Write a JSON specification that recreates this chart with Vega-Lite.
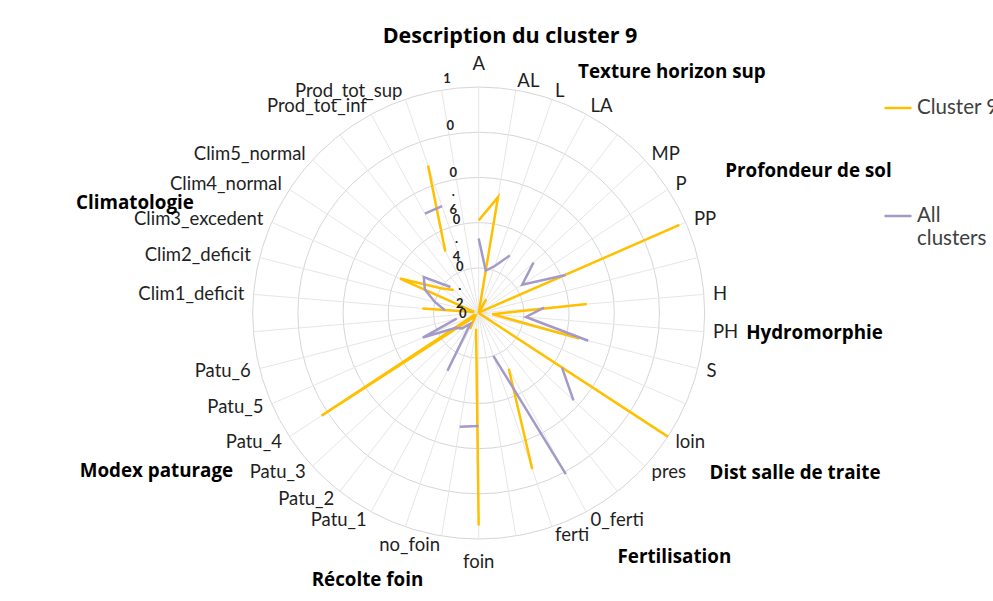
{
"$schema": "https://vega.github.io/schema/vega-lite/v6.json",
"width": 993, "height": 601, "padding": 0, "autosize": {"type": "none"},
"background": "#ffffff",
"config": {"view": {"stroke": null}, "text": {"font": "Lato"},
  "legend": {"orient": "none", "legendX": 883, "legendY": 93, "symbolType": "stroke", "symbolSize": 729, "symbolStrokeWidth": 2.5, "labelFont": "Lato", "labelFontSize": 20.5, "labelColor": "#404040", "labelOffset": 4, "rowPadding": 82, "labelBaseline": "middle", "title": null}},
"datasets": {
  "cats": [
    {"k":0,"cat":"A","c9":0.41,"all":0.33},
    {"k":1,"cat":"AL","c9":0.52,"all":0.19},
    {"k":2,"cat":"L","c9":0.0,"all":0.22},
    {"k":3,"cat":"LA","c9":0.07,"all":0.29},
    {"k":4,"cat":"","c9":null,"all":null},
    {"k":5,"cat":"MP","c9":0.02,"all":0.33},
    {"k":6,"cat":"P","c9":0.01,"all":0.23},
    {"k":7,"cat":"PP","c9":0.97,"all":0.42},
    {"k":8,"cat":"","c9":null,"all":null},
    {"k":9,"cat":"H","c9":0.48,"all":0.29},
    {"k":10,"cat":"PH","c9":0.06,"all":0.21},
    {"k":11,"cat":"S","c9":0.46,"all":0.50},
    {"k":12,"cat":"","c9":null,"all":null},
    {"k":13,"cat":"loin","c9":1.0,"all":0.44},
    {"k":14,"cat":"pres","c9":0.0,"all":0.57},
    {"k":15,"cat":"","c9":null,"all":null},
    {"k":16,"cat":"0_ferti","c9":0.28,"all":0.81},
    {"k":17,"cat":"ferti","c9":0.73,"all":0.20},
    {"k":18,"cat":"","c9":null,"all":null},
    {"k":19,"cat":"foin","c9":0.94,"all":0.50},
    {"k":20,"cat":"no_foin","c9":0.07,"all":0.51},
    {"k":21,"cat":"","c9":null,"all":null},
    {"k":22,"cat":"Patu_1","c9":0.08,"all":0.29},
    {"k":23,"cat":"Patu_2","c9":0.03,"all":0.06},
    {"k":24,"cat":"Patu_3","c9":0.02,"all":0.10},
    {"k":25,"cat":"Patu_4","c9":0.83,"all":0.12},
    {"k":26,"cat":"Patu_5","c9":0.02,"all":0.27},
    {"k":27,"cat":"Patu_6","c9":0.02,"all":0.10},
    {"k":28,"cat":"","c9":null,"all":null},
    {"k":29,"cat":"Clim1_deficit","c9":0.25,"all":0.15},
    {"k":30,"cat":"Clim2_deficit","c9":0.02,"all":0.20},
    {"k":31,"cat":"Clim3_excedent","c9":0.38,"all":0.26},
    {"k":32,"cat":"Clim4_normal","c9":0.20,"all":0.29},
    {"k":33,"cat":"Clim5_normal","c9":0.15,"all":0.17},
    {"k":34,"cat":"","c9":null,"all":null},
    {"k":35,"cat":"Prod_tot_inf","c9":0.31,"all":0.50},
    {"k":36,"cat":"Prod_tot_sup","c9":0.69,"all":0.50},
    {"k":37,"cat":"","c9":null,"all":null}
  ],
  "rings": [
    {"r":0,"t":"0"},
    {"r":0.2,"t":"0\n.\n2"},
    {"r":0.4,"t":"0\n.\n4"},
    {"r":0.6,"t":"0\n.\n6"},
    {"r":0.8,"t":"0"},
    {"r":1,"t":"1"}
  ],
  "one": [{"n":1}]
},
"layer": [
  {"data":{"name":"rings"},"transform":[{"filter":"datum.r > 0"}],
   "mark":{"type":"point","shape":"circle","filled":false,"stroke":"#D6D6D6","strokeWidth":1,"opacity":1},
   "encoding":{"x":{"datum":0,"type":"quantitative","scale":{"domain":[-2.118,2.2757],"nice":false,"zero":false},"axis":null},
     "y":{"datum":0,"type":"quantitative","scale":{"domain":[-1.274,1.385],"nice":false,"zero":false},"axis":null},
     "size":{"field":"r","type":"quantitative","scale":{"type":"pow","exponent":2,"domain":[0,1],"range":[0,204304]},"legend":null}}},
  {"data":{"name":"cats"},"transform":[{"calculate":"datum.k*2*PI/38","as":"a"},{"calculate":"sin(datum.a)","as":"x"},{"calculate":"cos(datum.a)","as":"y"}],
   "mark":{"type":"rule","stroke":"#E6E6E6","strokeWidth":1},
   "encoding":{"x":{"field":"x","type":"quantitative","scale":{"domain":[-2.118,2.2757],"nice":false,"zero":false},"axis":null},
     "y":{"field":"y","type":"quantitative","scale":{"domain":[-1.274,1.385],"nice":false,"zero":false},"axis":null},
     "x2":{"datum":0},"y2":{"datum":0}}},
  {"data":{"name":"cats"},"transform":[{"calculate":"datum.k*2*PI/38","as":"a"},{"calculate":"datum.c9 == null ? null : datum.c9*sin(datum.a)","as":"x"},{"calculate":"datum.c9 == null ? null : datum.c9*cos(datum.a)","as":"y"}],
   "mark":{"type":"line","strokeWidth":2.5,"invalid":"break-paths-filter-domains"},
   "encoding":{"x":{"field":"x","type":"quantitative","scale":{"domain":[-2.118,2.2757],"nice":false,"zero":false},"axis":null},
     "y":{"field":"y","type":"quantitative","scale":{"domain":[-1.274,1.385],"nice":false,"zero":false},"axis":null},
     "order":{"field":"k","type":"quantitative"},
     "color":{"datum":"Cluster 9","type":"nominal","scale":{"domain":["Cluster 9","All clusters"],"range":["#FFC000","#A49AC9"]},
       "legend":{"labelExpr":"datum.label == 'All clusters' ? ['All','clusters'] : datum.label"}}}},
  {"data":{"name":"cats"},"transform":[{"calculate":"datum.k*2*PI/38","as":"a"},{"calculate":"datum.all == null ? null : datum.all*sin(datum.a)","as":"x"},{"calculate":"datum.all == null ? null : datum.all*cos(datum.a)","as":"y"}],
   "mark":{"type":"line","strokeWidth":2.5,"invalid":"break-paths-filter-domains"},
   "encoding":{"x":{"field":"x","type":"quantitative","scale":{"domain":[-2.118,2.2757],"nice":false,"zero":false},"axis":null},
     "y":{"field":"y","type":"quantitative","scale":{"domain":[-1.274,1.385],"nice":false,"zero":false},"axis":null},
     "order":{"field":"k","type":"quantitative"},
     "color":{"datum":"All clusters","type":"nominal"}}},
  {"data":{"name":"cats"},"transform":[{"filter":"datum.cat != '' && datum.k > 0 && datum.k < 19"},{"calculate":"datum.k*2*PI/38","as":"a"},{"calculate":"1.04*sin(datum.a)","as":"x"},{"calculate":"1.04*cos(datum.a)","as":"y"}],
   "mark":{"type":"text","align":"left","baseline":"middle","fontSize":18.5,"color":"#1f1f1f"},
   "encoding":{"x":{"field":"x","type":"quantitative","scale":{"domain":[-2.118,2.2757],"nice":false,"zero":false},"axis":null},
     "y":{"field":"y","type":"quantitative","scale":{"domain":[-1.274,1.385],"nice":false,"zero":false},"axis":null},
     "text":{"field":"cat"}}},
  {"data":{"name":"cats"},"transform":[{"filter":"datum.cat != '' && datum.k > 19"},{"calculate":"datum.k*2*PI/38","as":"a"},{"calculate":"1.04*sin(datum.a)","as":"x"},{"calculate":"1.04*cos(datum.a)","as":"y"}],
   "mark":{"type":"text","align":"right","baseline":"middle","fontSize":18.5,"color":"#1f1f1f"},
   "encoding":{"x":{"field":"x","type":"quantitative","scale":{"domain":[-2.118,2.2757],"nice":false,"zero":false},"axis":null},
     "y":{"field":"y","type":"quantitative","scale":{"domain":[-1.274,1.385],"nice":false,"zero":false},"axis":null},
     "text":{"field":"cat"}}},
  {"data":{"name":"cats"},"transform":[{"filter":"datum.k == 0 || datum.k == 19"},{"calculate":"datum.k*2*PI/38","as":"a"},{"calculate":"1.1*sin(datum.a)","as":"x"},{"calculate":"1.1*cos(datum.a)","as":"y"}],
   "mark":{"type":"text","align":"center","baseline":"middle","fontSize":18.5,"color":"#1f1f1f"},
   "encoding":{"x":{"field":"x","type":"quantitative","scale":{"domain":[-2.118,2.2757],"nice":false,"zero":false},"axis":null},
     "y":{"field":"y","type":"quantitative","scale":{"domain":[-1.274,1.385],"nice":false,"zero":false},"axis":null},
     "text":{"field":"cat"}}},
  {"data":{"name":"rings"},"transform":[{"calculate":"-0.07 - 0.07*datum.r","as":"x"},{"calculate":"datum.r*1.04 - 0.009","as":"y"}],
   "mark":{"type":"text","align":"center","baseline":"top","dy":-7,"fontSize":13,"fontWeight":"bold","lineBreak":"\n","lineHeight":18.5,"color":"#1f1f1f"},
   "encoding":{"x":{"field":"x","type":"quantitative","scale":{"domain":[-2.118,2.2757],"nice":false,"zero":false},"axis":null},
     "y":{"field":"y","type":"quantitative","scale":{"domain":[-1.274,1.385],"nice":false,"zero":false},"axis":null},
     "text":{"field":"t"}}},
  {"data":{"name":"one"},"mark":{"type":"text","align":"center","baseline":"middle","fontSize":21.5,"fontWeight":"bold","font":"Open Sans","color":"#000000"},
   "encoding":{"x":{"datum":0.1385,"type":"quantitative"},"y":{"datum":1.2212,"type":"quantitative"},"text":{"value":"Description du cluster 9"}}},
  {"data":{"name":"one"},"mark":{"type":"text","align":"center","baseline":"middle","fontSize":18.8,"fontWeight":"bold","font":"Open Sans","color":"#000000"},
   "encoding":{"x":{"datum":0.855,"type":"quantitative"},"y":{"datum":1.066,"type":"quantitative"},"text":{"value":"Texture horizon sup"}}},
  {"data":{"name":"one"},"mark":{"type":"text","align":"center","baseline":"middle","fontSize":18.8,"fontWeight":"bold","font":"Open Sans","color":"#000000"},
   "encoding":{"x":{"datum":1.459,"type":"quantitative"},"y":{"datum":0.628,"type":"quantitative"},"text":{"value":"Profondeur de sol"}}},
  {"data":{"name":"one"},"mark":{"type":"text","align":"center","baseline":"middle","fontSize":18.8,"fontWeight":"bold","font":"Open Sans","color":"#000000"},
   "encoding":{"x":{"datum":1.486,"type":"quantitative"},"y":{"datum":-0.088,"type":"quantitative"},"text":{"value":"Hydromorphie"}}},
  {"data":{"name":"one"},"mark":{"type":"text","align":"center","baseline":"middle","fontSize":18.8,"fontWeight":"bold","font":"Open Sans","color":"#000000"},
   "encoding":{"x":{"datum":1.40,"type":"quantitative"},"y":{"datum":-0.708,"type":"quantitative"},"text":{"value":"Dist salle de traite"}}},
  {"data":{"name":"one"},"mark":{"type":"text","align":"center","baseline":"middle","fontSize":18.8,"fontWeight":"bold","font":"Open Sans","color":"#000000"},
   "encoding":{"x":{"datum":0.866,"type":"quantitative"},"y":{"datum":-1.08,"type":"quantitative"},"text":{"value":"Fertilisation"}}},
  {"data":{"name":"one"},"mark":{"type":"text","align":"center","baseline":"middle","fontSize":18.8,"fontWeight":"bold","font":"Open Sans","color":"#000000"},
   "encoding":{"x":{"datum":-0.492,"type":"quantitative"},"y":{"datum":-1.181,"type":"quantitative"},"text":{"value":"Récolte foin"}}},
  {"data":{"name":"one"},"mark":{"type":"text","align":"center","baseline":"middle","fontSize":18.8,"fontWeight":"bold","font":"Open Sans","color":"#000000"},
   "encoding":{"x":{"datum":-1.426,"type":"quantitative"},"y":{"datum":-0.699,"type":"quantitative"},"text":{"value":"Modex paturage"}}},
  {"data":{"name":"one"},"mark":{"type":"text","align":"center","baseline":"middle","fontSize":18.8,"fontWeight":"bold","font":"Open Sans","color":"#000000"},
   "encoding":{"x":{"datum":-1.521,"type":"quantitative"},"y":{"datum":0.487,"type":"quantitative"},"text":{"value":"Climatologie"}}}
]
}
